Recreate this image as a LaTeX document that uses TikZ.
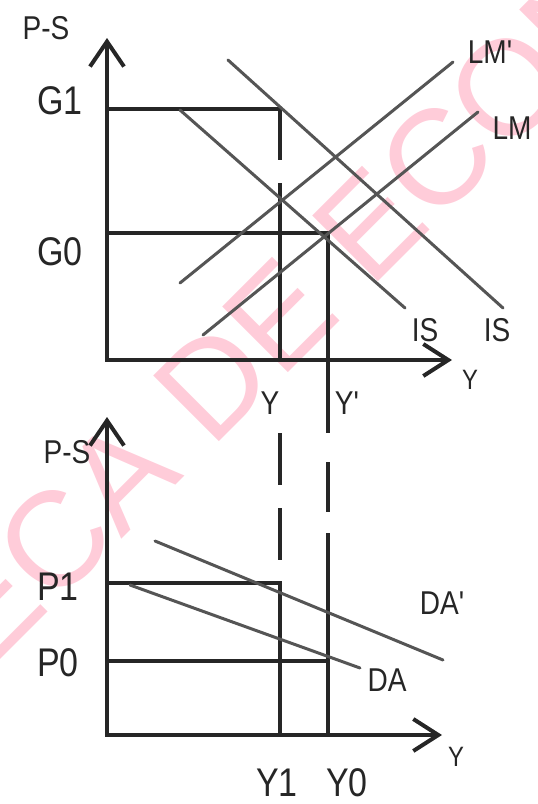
\documentclass[tikz,border=0pt]{standalone}
\usepackage{fontspec}
\setmainfont{Liberation Sans}
\newfontfamily\labelfont[FakeStretch=0.85]{Liberation Sans}
\usepackage{xcolor}
\usetikzlibrary{arrows.meta}
\definecolor{inkgray}{HTML}{262626}
\definecolor{curvegray}{HTML}{555555}
\definecolor{markpink}{HTML}{FFCCD9}

\begin{document}
\begin{tikzpicture}[x=1pt,y=-1pt,
  axis/.style={draw=inkgray,line width=4pt,{Straight Barb[length=25pt,width=34pt]}-{Straight Barb[length=25pt,width=32pt]}},
  guide/.style={draw=inkgray,line width=4pt},
  curve/.style={draw=curvegray,line width=3pt,line cap=round},
  biglbl/.style={text=inkgray,font=\labelfont\fontsize{40}{40}\selectfont,inner sep=0pt},
  lbl/.style={text=inkgray,font=\labelfont\fontsize{33}{33}\selectfont,inner sep=0pt},
  smalllbl/.style={text=inkgray,font=\labelfont\fontsize{28}{28}\selectfont,inner sep=0pt}]
\useasboundingbox (0,0) rectangle (538,804);
% watermark
\node[rotate=45,text=markpink,font=\fontsize{135}{135}\selectfont,inner sep=0pt] (mark) at (285,310) {ECA DE ECON};
% upper panel: points
\coordinate (o1) at (107,360);
\coordinate (ytop1) at (107,38);
\coordinate (xend1) at (452,360);
\coordinate (g1l) at (107,109);
\coordinate (g1r) at (280,109);
\coordinate (g0l) at (107,233);
\coordinate (e0) at (328,233);
\coordinate (isa) at (180,110);
\coordinate (isb) at (405,308);
\coordinate (isna) at (228,60);
\coordinate (isnb) at (503,308);
\coordinate (lmna) at (180,283);
\coordinate (lmnb) at (453,62);
\coordinate (lma) at (203,335);
\coordinate (lmb) at (478,112);
% lower panel: points
\coordinate (o2) at (107,735);
\coordinate (ytop2) at (107,417);
\coordinate (xend2) at (442,735);
\coordinate (p1l) at (107,583);
\coordinate (p1r) at (280,583);
\coordinate (p0l) at (107,661);
\coordinate (p0r) at (328,661);
\coordinate (dana) at (155,541);
\coordinate (danb) at (443,660);
\coordinate (daa) at (130,585);
\coordinate (dab) at (360,668);
% verticals
\coordinate (v1a) at (280,160);
\coordinate (v1b) at (280,183);
\coordinate (v1x) at (280,360);
\coordinate (v1c) at (280,433);
\coordinate (v1d) at (280,560);
\coordinate (v1e) at (280,735);
\coordinate (v2a) at (328,433);
\coordinate (v2b) at (328,462);
\coordinate (v2c) at (328,512);
\coordinate (v2d) at (328,533);
\coordinate (v2e) at (328,735);
% axes
\draw[axis] (ytop1) -- (o1) -- (xend1);
\draw[axis] (ytop2) -- (o2) -- (xend2);
% guide lines
\draw[guide] (g1l) -- (g1r) -- (v1a);
\draw[guide] (v1b) -- (v1x);
\draw[guide,dash pattern=on 52pt off 23pt] (v1c) -- (v1d);
\draw[guide] (p1l) -- (p1r) -- (v1e);
\draw[guide] (g0l) -- (e0) -- (v2a);
\draw[guide] (v2b) -- (v2c);
\draw[guide] (v2d) -- (v2e);
\draw[guide] (p0l) -- (p0r);
% curves
\draw[curve] (isa) -- (isb);
\draw[curve] (isna) -- (isnb);
\draw[curve] (lmna) -- (lmnb);
\draw[curve] (lma) -- (lmb);
\draw[curve] (dana) -- (danb);
\draw[curve] (daa) -- (dab);
% labels
\node[lbl] (ps1) at (46,28) {P-S};
\node[biglbl] (g1) at (60,101) {G1};
\node[biglbl] (g0) at (60,252) {G0};
\node[lbl] (lmn) at (490,52) {LM'};
\node[lbl] (lm) at (512,128) {LM};
\node[lbl] (is1) at (425,330) {IS};
\node[lbl] (is2) at (497,330) {IS};
\node[smalllbl] (yax1) at (470,380) {Y};
\node[lbl] (ya) at (270,403) {Y};
\node[lbl] (yb) at (347,403) {Y'};
\node[lbl] (ps2) at (67,452) {P-S};
\node[biglbl] (p1) at (58,587) {P1};
\node[biglbl] (p0) at (58,663) {P0};
\node[lbl] (dan) at (442,603) {DA'};
\node[lbl] (da) at (387,680) {DA};
\node[biglbl] (y1) at (277,783) {Y1};
\node[biglbl] (y0) at (347,783) {Y0};
\node[smalllbl] (yax2) at (456,757) {Y};
\end{tikzpicture}
\end{document}
